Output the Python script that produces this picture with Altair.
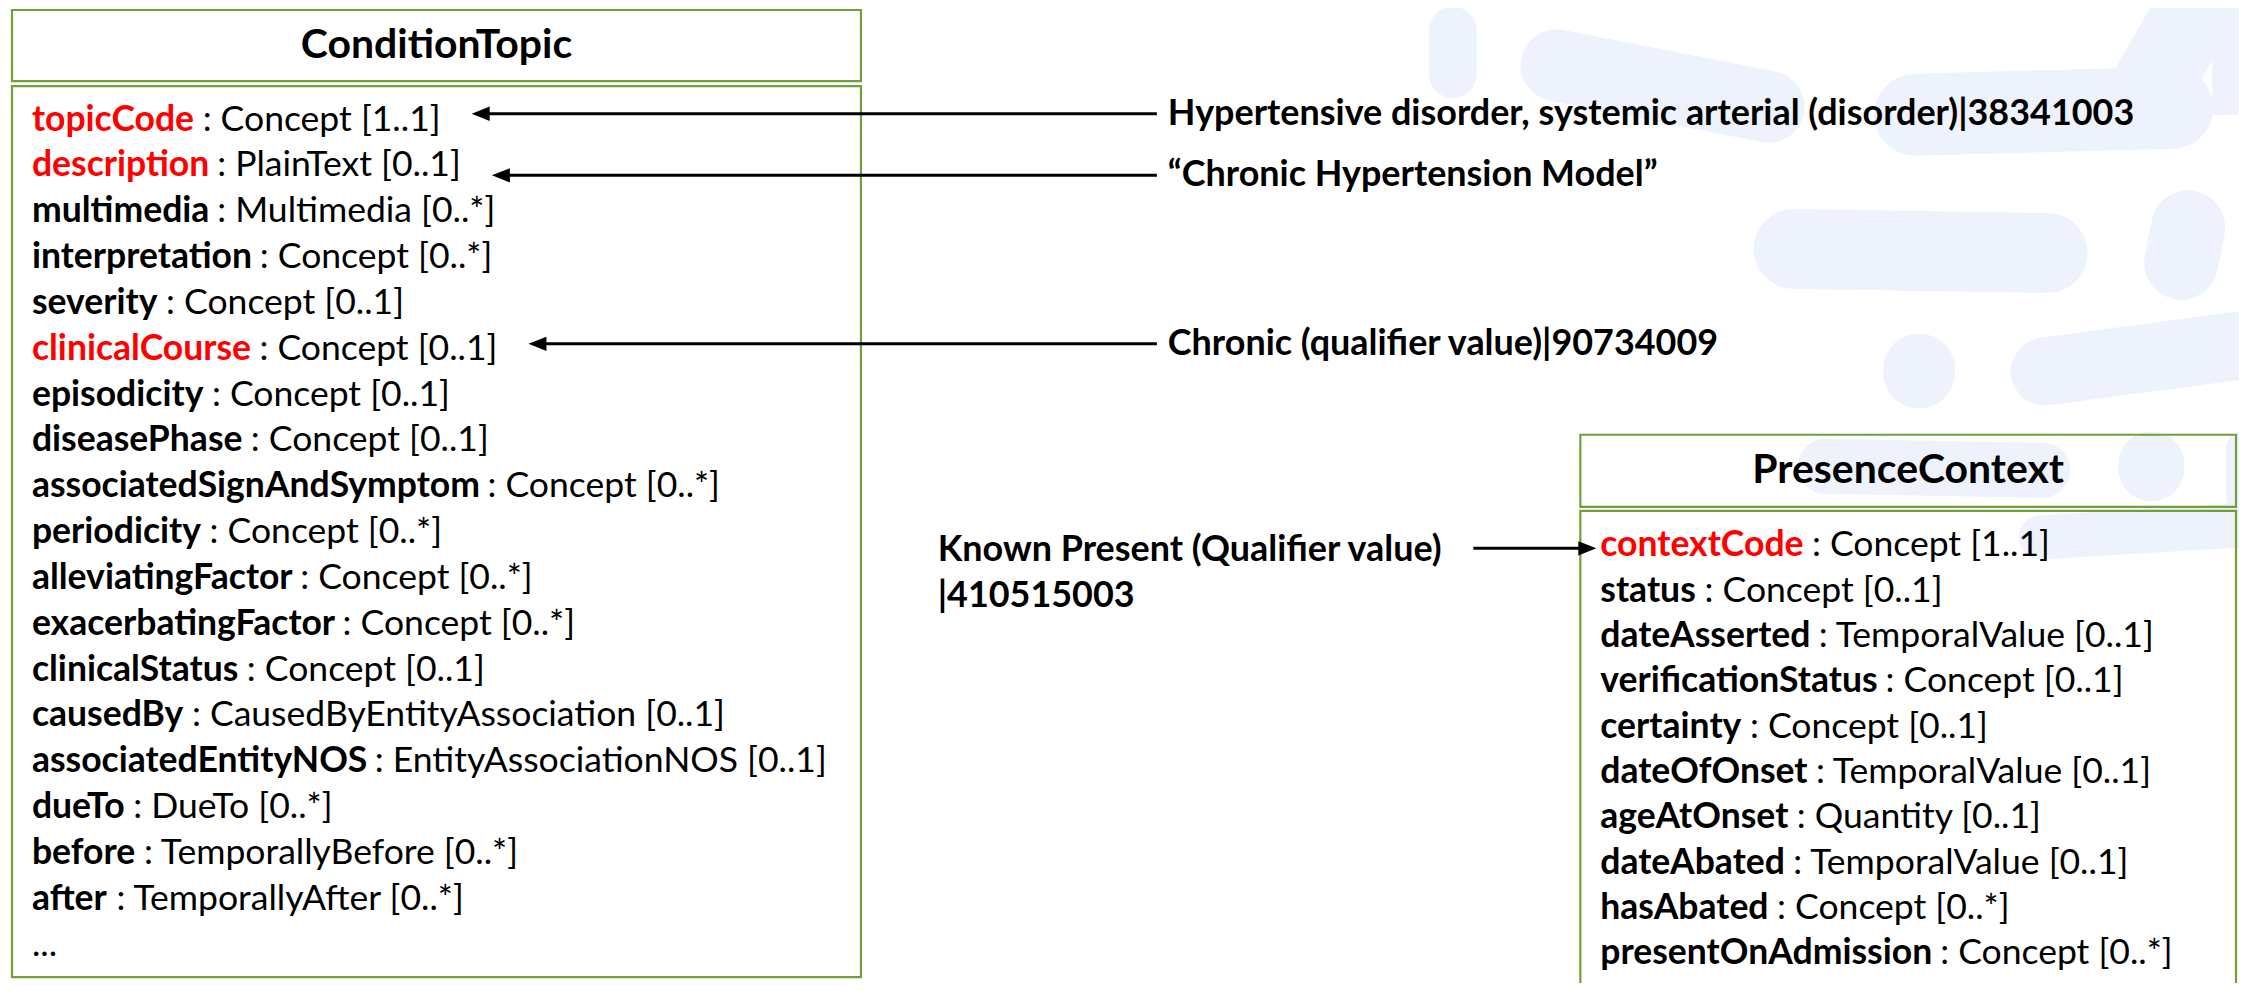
import glob
import os
import struct

import altair as alt
import pandas as pd

# ---------------- content ----------------
topic_title = "ConditionTopic"
topic_names = ["topicCode", "description", "multimedia", "interpretation", "severity",
               "clinicalCourse", "episodicity", "diseasePhase", "associatedSignAndSymptom",
               "periodicity", "alleviatingFactor", "exacerbatingFactor", "clinicalStatus",
               "causedBy", "associatedEntityNOS", "dueTo", "before", "after"]
topic_types = ["Concept [1..1]", "PlainText [0..1]", "Multimedia [0..*]", "Concept [0..*]",
               "Concept [0..1]", "Concept [0..1]", "Concept [0..1]", "Concept [0..1]",
               "Concept [0..*]", "Concept [0..*]", "Concept [0..*]", "Concept [0..*]",
               "Concept [0..1]", "CausedByEntityAssociation [0..1]",
               "EntityAssociationNOS [0..1]", "DueTo [0..*]", "TemporallyBefore [0..*]",
               "TemporallyAfter [0..*]"]
topic_red = ["topicCode", "description", "clinicalCourse"]
topic_more = "..."

context_title = "PresenceContext"
context_names = ["contextCode", "status", "dateAsserted", "verificationStatus", "certainty",
                 "dateOfOnset", "ageAtOnset", "dateAbated", "hasAbated", "presentOnAdmission"]
context_types = ["Concept [1..1]", "Concept [0..1]", "TemporalValue [0..1]", "Concept [0..1]",
                 "Concept [0..1]", "TemporalValue [0..1]", "Quantity [0..1]",
                 "TemporalValue [0..1]", "Concept [0..*]", "Concept [0..*]"]
context_red = ["contextCode"]

value_labels = ["Hypertensive disorder, systemic arterial (disorder)|38341003",
                "\u201cChronic Hypertension Model\u201d",
                "Chronic (qualifier value)|90734009"]
value_targets = ["topicCode", "description", "clinicalCourse"]
presence_lines = ["Known Present (Qualifier value)", "|410515003"]
presence_target = "contextCode"

# ---------------- style / layout ----------------
FONT = "Lato"
GREEN = "#70a03a"
RED = "#ff0000"
WM = "#edf2fc"

L_X0, L_X1, L_TY0, L_TY1, L_BY0, L_BY1 = 12, 864, 6, 78, 83, 985
R_X0, R_X1, R_TY0, R_TY1, R_BY0, R_BY1 = 1586, 2244, 436, 509, 513, 1010
L_TEXT_X, L_ROW0, L_PITCH = 32, 117, 46.4
R_TEXT_X, R_ROW0, R_PITCH = 1606, 548, 45.9
LABEL_X = 1172
ARROW_DY = [-6, 10, -5]          # hand-drawn arrows sit a little off the row centres
PRESENCE_X = 941


# ---------------- font metrics (to place bold/regular runs) ----------------
def find_font(patterns):
    dirs = ["/usr/share/fonts", "/usr/local/share/fonts",
            os.path.expanduser("~/.fonts"), os.path.expanduser("~/.local/share/fonts")]
    for pat in patterns:
        for d in dirs:
            hits = sorted(glob.glob(os.path.join(d, "**", pat), recursive=True))
            if hits:
                return hits[0]
    return None


class Metrics:
    def __init__(self, path, fallback):
        self.fallback = fallback
        self.ok = False
        self.pairsubs = []
        if path:
            try:
                self._load(path)
                self.ok = True
            except Exception:
                self.ok = False
            if self.ok:
                try:
                    self._load_kern()
                except Exception:
                    self.pairsubs = []

    def u16(self, o):
        return struct.unpack(">H", self.data[o:o + 2])[0]

    def s16(self, o):
        return struct.unpack(">h", self.data[o:o + 2])[0]

    def _load(self, path):
        data = open(path, "rb").read()
        self.data = data
        n = struct.unpack(">H", data[4:6])[0]
        tables = {}
        for i in range(n):
            tag, _, off, ln = struct.unpack(">4sIII", data[12 + 16 * i:28 + 16 * i])
            tables[tag.decode("latin1")] = off
        self.tables = tables
        self.upem = self.u16(tables["head"] + 18)
        nhm = self.u16(tables["hhea"] + 34)
        ho = tables["hmtx"]
        self.adv = [self.u16(ho + 4 * i) for i in range(nhm)]
        co = tables["cmap"]
        nsub = self.u16(co + 2)
        sub = None
        for i in range(nsub):
            pid, eid, so = struct.unpack(">HHI", data[co + 4 + 8 * i:co + 12 + 8 * i])
            if self.u16(co + so) == 4 and pid in (0, 3):
                sub = co + so
        o = sub
        segx2 = self.u16(o + 6)
        seg = segx2 // 2
        self.ends = struct.unpack(">%dH" % seg, data[o + 14:o + 14 + segx2])
        self.starts = struct.unpack(">%dH" % seg, data[o + 16 + segx2:o + 16 + 2 * segx2])
        self.deltas = struct.unpack(">%dh" % seg, data[o + 16 + 2 * segx2:o + 16 + 3 * segx2])
        self.rpos = o + 16 + 3 * segx2
        self.roffs = struct.unpack(">%dH" % seg, data[self.rpos:self.rpos + segx2])
        self.seg = seg

    # --- GPOS pair kerning ---
    def _coverage(self, o):
        fmt, cnt, res = self.u16(o), self.u16(o + 2), {}
        if fmt == 1:
            for i in range(cnt):
                res[self.u16(o + 4 + 2 * i)] = i
        else:
            for i in range(cnt):
                s, e, si = self.u16(o + 4 + 6 * i), self.u16(o + 6 + 6 * i), self.u16(o + 8 + 6 * i)
                for gg in range(s, e + 1):
                    res[gg] = si + gg - s
        return res

    def _classdef(self, o):
        fmt, res = self.u16(o), {}
        if fmt == 1:
            start, cnt = self.u16(o + 2), self.u16(o + 4)
            for i in range(cnt):
                res[start + i] = self.u16(o + 6 + 2 * i)
        else:
            cnt = self.u16(o + 2)
            for i in range(cnt):
                s, e, c = self.u16(o + 4 + 6 * i), self.u16(o + 6 + 6 * i), self.u16(o + 8 + 6 * i)
                for gg in range(s, e + 1):
                    res[gg] = c
        return res

    @staticmethod
    def _vsize(vf):
        return 2 * bin(vf & 0xFF).count("1")

    def _xadv(self, o, vf):
        off = 0
        for bit in (1, 2, 4):
            if vf & bit:
                if bit == 4:
                    return self.s16(o + off)
                off += 2
        return 0

    def _load_kern(self):
        if "GPOS" not in self.tables:
            return
        g = self.tables["GPOS"]
        ll = g + self.u16(g + 8)
        for li in range(self.u16(ll)):
            lo = ll + self.u16(ll + 2 + 2 * li)
            ltype, nsub = self.u16(lo), self.u16(lo + 4)
            subs = []
            for si in range(nsub):
                so = lo + self.u16(lo + 6 + 2 * si)
                t = ltype
                if t == 9:
                    t = self.u16(so + 2)
                    so = so + struct.unpack(">I", self.data[so + 4:so + 8])[0]
                if t != 2:
                    continue
                fmt = self.u16(so)
                cov = self._coverage(so + self.u16(so + 2))
                vf1, vf2 = self.u16(so + 4), self.u16(so + 6)
                if fmt == 1:
                    subs.append((1, so, cov, vf1, vf2))
                elif fmt == 2:
                    cd1 = self._classdef(so + self.u16(so + 8))
                    cd2 = self._classdef(so + self.u16(so + 10))
                    subs.append((2, so, cov, vf1, vf2, cd1, cd2, self.u16(so + 12), self.u16(so + 14)))
            if subs:
                self.pairsubs.append(subs)

    def kern(self, a, b):
        total = 0
        for subs in self.pairsubs:
            for s in subs:
                if a not in s[2]:
                    continue
                fmt, so, cov, vf1, vf2 = s[:5]
                if fmt == 1:
                    ps = so + self.u16(so + 10 + 2 * cov[a])
                    rs = 2 + self._vsize(vf1) + self._vsize(vf2)
                    hit = None
                    for i in range(self.u16(ps)):
                        if self.u16(ps + 2 + i * rs) == b:
                            hit = self._xadv(ps + 2 + i * rs + 2, vf1)
                            break
                    if hit is None:
                        continue
                    total += hit
                    break
                else:
                    cd1, cd2, c1n, c2n = s[5:]
                    c1, c2 = cd1.get(a, 0), cd2.get(b, 0)
                    if c1 >= c1n or c2 >= c2n:
                        continue
                    rs = self._vsize(vf1) + self._vsize(vf2)
                    total += self._xadv(so + 16 + (c1 * c2n + c2) * rs, vf1)
                    break
        return total

    def gid(self, c):
        for k in range(self.seg):
            if self.ends[k] >= c:
                if self.starts[k] > c:
                    return 0
                if self.roffs[k] == 0:
                    return (c + self.deltas[k]) & 0xFFFF
                addr = self.rpos + 2 * k + self.roffs[k] + 2 * (c - self.starts[k])
                gg = self.u16(addr)
                return (gg + self.deltas[k]) & 0xFFFF if gg else 0
        return 0

    def width(self, s, size):
        if not self.ok:
            return len(s) * self.fallback * size
        gids = [self.gid(ord(ch)) for ch in s]
        tot = sum(self.adv[min(gg, len(self.adv) - 1)] for gg in gids)
        for a, b in zip(gids, gids[1:]):
            tot += self.kern(a, b)
        return tot * size / self.upem


REG = Metrics(find_font(["Lato-Regular.ttf", "Lato-Regular.otf"]), 0.50)
BLD = Metrics(find_font(["Lato-Bold.ttf", "Lato-Bold.otf"]), 0.53)


def line_w(name, rest, size):
    return BLD.width(name, size) + REG.width(" " + rest, size)


# calibrate sizes so that line widths match those in the picture
row_samples = [("associatedEntityNOS", ": EntityAssociationNOS [0..1]", 783),
               ("associatedSignAndSymptom", ": Concept [0..*]", 695),
               ("presentOnAdmission", ": Concept [0..*]", 578)]
ROW_SIZE = 36 * sum(t / line_w(n, r, 36) for n, r, t in row_samples) / len(row_samples)
title_samples = [("ConditionTopic", 274), ("PresenceContext", 308)]
TITLE_SIZE = 36 * sum(t / BLD.width(s, 36) for s, t in title_samples) / len(title_samples)
label_samples = [(value_labels[0], 966), (value_labels[2], 552), (presence_lines[0], 504)]
LABEL_SIZE = 36 * sum(t / BLD.width(s, 36) for s, t in label_samples) / len(label_samples)

# ---------------- tables built from the lists ----------------
rows = []
for i, (n, t) in enumerate(zip(topic_names, topic_types)):
    rows.append(dict(name=n, rest=": " + t, y=L_ROW0 + i * L_PITCH, x=L_TEXT_X,
                     xr=L_TEXT_X + BLD.width(n, ROW_SIZE) + REG.width(" ", ROW_SIZE),
                     end=L_TEXT_X + line_w(n, ": " + t, ROW_SIZE),
                     color=RED if n in topic_red else "black"))
for i, (n, t) in enumerate(zip(context_names, context_types)):
    rows.append(dict(name=n, rest=": " + t, y=R_ROW0 + i * R_PITCH, x=R_TEXT_X,
                     xr=R_TEXT_X + BLD.width(n, ROW_SIZE) + REG.width(" ", ROW_SIZE),
                     end=R_TEXT_X + line_w(n, ": " + t, ROW_SIZE),
                     color=RED if n in context_red else "black"))
rows_df = pd.DataFrame(rows)
more_df = pd.DataFrame([dict(text=topic_more, x=L_TEXT_X, y=L_ROW0 + len(topic_names) * L_PITCH)])

boxes_df = pd.DataFrame([
    dict(x=L_X0, x2=L_X1, y=L_TY0, y2=L_TY1),
    dict(x=L_X0, x2=L_X1, y=L_BY0, y2=L_BY1),
    dict(x=R_X0, x2=R_X1, y=R_TY0, y2=R_TY1),
    dict(x=R_X0, x2=R_X1, y=R_BY0, y2=R_BY1),
])
titles_df = pd.DataFrame([
    dict(text=topic_title, x=(L_X0 + L_X1) / 2, y=(L_TY0 + L_TY1) / 2),
    dict(text=context_title, x=(R_X0 + R_X1) / 2, y=(R_TY0 + R_TY1) / 2),
])

byname = rows_df.set_index("name")
labels, arrows_l, heads_l = [], [], []
for lab, tgt, dy in zip(value_labels, value_targets, ARROW_DY):
    r = byname.loc[tgt]
    tip = r["end"] + 32
    ya = r["y"] + dy
    labels.append(dict(text=lab, x=LABEL_X, y=ya))
    arrows_l.append(dict(x=LABEL_X - 11, x2=tip + 10, y=ya))
    heads_l.append(dict(x=tip + 9, y=ya))
pr = byname.loc[presence_target]
for k, line in enumerate(presence_lines):
    labels.append(dict(text=line, x=PRESENCE_X, y=pr["y"] + 5 + 46 * k))
tail = PRESENCE_X + BLD.width(presence_lines[0], LABEL_SIZE) + 33
tip_r = R_TEXT_X - 4
arrows_l.append(dict(x=tail, x2=tip_r - 10, y=pr["y"] + 3))
heads_r = [dict(x=tip_r - 9, y=pr["y"] + 3)]
labels_df = pd.DataFrame(labels)
arrows_df = pd.DataFrame(arrows_l)
heads_l_df = pd.DataFrame(heads_l)
heads_r_df = pd.DataFrame(heads_r)

# faint background logo strokes
wm_round = pd.DataFrame([
    dict(x=1458, y=27, x2=1458, y2=71, w=48),
    dict(x=1562, y=62, x2=1775, y2=104, w=72),
    dict(x=1922, y=112, x2=2180, y2=105, w=82),
    dict(x=1800, y=248, x2=2055, y2=252, w=80),
    dict(x=2196, y=226, x2=2189, y2=262, w=74),
    dict(x=1926, y=370, x2=1926, y2=373, w=72),
    dict(x=2052, y=372, x2=2260, y2=344, w=68),
    dict(x=1832, y=468, x2=2050, y2=472, w=55),
    dict(x=2159, y=466, x2=2159, y2=470, w=66),
    dict(x=2048, y=540, x2=2260, y2=527, w=44),
    dict(x=2252, y=450, x2=2252, y2=500, w=36),
])
wm_butt = pd.DataFrame([
    dict(x=2212, y=-10, x2=2158, y2=85, w=80),
    dict(x=2235, y=-10, x2=2235, y2=112, w=30),
])

# ---------------- chart ----------------
xs = alt.Scale(domain=[8, 2247], nice=False, zero=False)
ys = alt.Scale(domain=[991, 4], nice=False, zero=False)
X = lambda f="x": alt.X(f"{f}:Q", scale=xs, axis=None)
Y = lambda f="y": alt.Y(f"{f}:Q", scale=ys, axis=None)

wm1 = alt.Chart(wm_round).mark_rule(color=WM, strokeCap="round").encode(
    x=X(), y=Y(), x2="x2:Q", y2="y2:Q", strokeWidth=alt.StrokeWidth("w:Q", scale=None))
wm2 = alt.Chart(wm_butt).mark_rule(color=WM, strokeCap="butt").encode(
    x=X(), y=Y(), x2="x2:Q", y2="y2:Q", strokeWidth=alt.StrokeWidth("w:Q", scale=None))

boxes = alt.Chart(boxes_df).mark_rect(fillOpacity=0, stroke=GREEN, strokeWidth=2.2).encode(
    x=X(), x2="x2:Q", y=Y(), y2="y2:Q")

titles = alt.Chart(titles_df).mark_text(font=FONT, fontWeight="bold", fontSize=TITLE_SIZE,
                                        align="center", baseline="middle", color="black").encode(
    x=X(), y=Y(), text="text:N")
names = alt.Chart(rows_df).mark_text(font=FONT, fontWeight="bold", fontSize=ROW_SIZE,
                                     align="left", baseline="middle").encode(
    x=X(), y=Y(), text="name:N", color=alt.Color("color:N", scale=None))
rests = alt.Chart(rows_df).mark_text(font=FONT, fontWeight="normal", fontSize=ROW_SIZE,
                                     align="left", baseline="middle", color="black").encode(
    x=X("xr"), y=Y(), text="rest:N")
more = alt.Chart(more_df).mark_text(font=FONT, fontSize=ROW_SIZE, align="left",
                                    baseline="middle", color="black").encode(
    x=X(), y=Y(), text="text:N")
labs = alt.Chart(labels_df).mark_text(font=FONT, fontWeight="bold", fontSize=LABEL_SIZE,
                                      align="left", baseline="middle", color="black").encode(
    x=X(), y=Y(), text="text:N")
lines = alt.Chart(arrows_df).mark_rule(color="black", strokeWidth=3).encode(
    x=X(), x2="x2:Q", y=Y())
hl = alt.Chart(heads_l_df).mark_point(shape="M-1,0L1,-0.8L1,0.8Z", filled=True, size=324,
                                      color="black", opacity=1, strokeWidth=0).encode(x=X(), y=Y())
hr = alt.Chart(heads_r_df).mark_point(shape="M1,0L-1,-0.8L-1,0.8Z", filled=True, size=324,
                                      color="black", opacity=1, strokeWidth=0).encode(x=X(), y=Y())

chart = alt.layer(wm1, wm2, boxes, titles, names, rests, more, labs, lines, hl, hr).properties(
    width=2231, height=975, padding=0, autosize=alt.AutoSizeParams(type="none"),
    background="white",
).configure_view(strokeWidth=0)

chart.save("out.html", embed_options={"renderer": "svg", "actions": False})
